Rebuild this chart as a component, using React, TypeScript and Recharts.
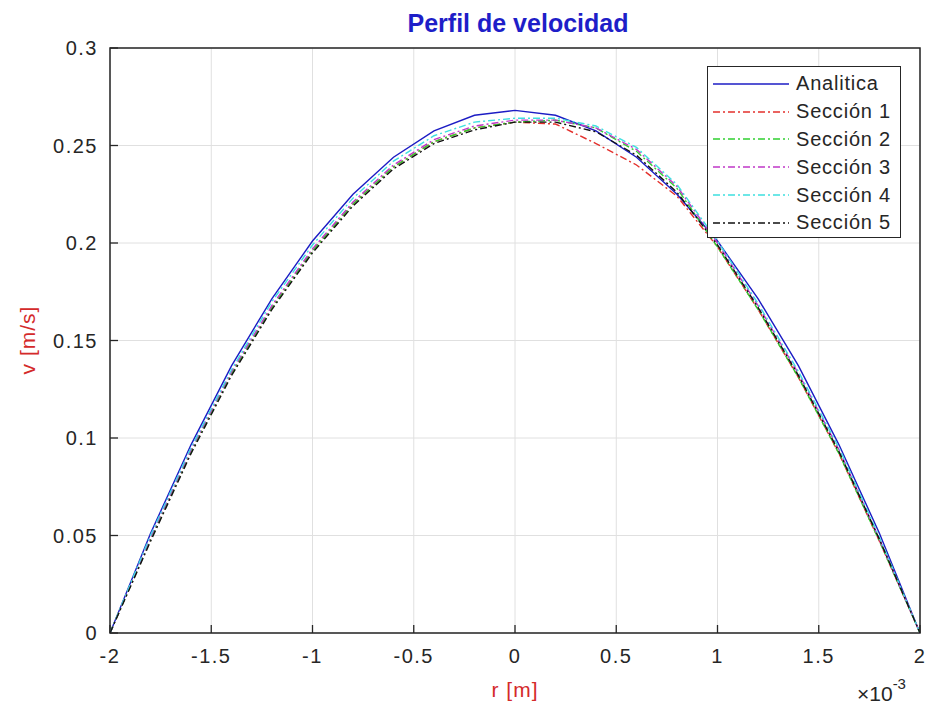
import React from 'react';
import { LineChart, Line, XAxis, YAxis, CartesianGrid, ReferenceArea } from 'recharts';

// r in units of 1e-3 m (axis multiplier shown as "x10^-3")
const radius = [-2, -1.8, -1.6, -1.4, -1.2, -1, -0.8, -0.6, -0.4, -0.2, 0, 0.2, 0.4, 0.6, 0.8, 1, 1.2, 1.4, 1.6, 1.8, 2];

const analitica = [0, 0.051, 0.0965, 0.137, 0.1715, 0.201, 0.225, 0.244, 0.2575, 0.2655, 0.268, 0.2655, 0.2575, 0.244, 0.225, 0.201, 0.1715, 0.137, 0.0965, 0.051, 0];
const seccion1 = [0, 0.048, 0.093, 0.133, 0.167, 0.196, 0.22, 0.239, 0.252, 0.259, 0.262, 0.261, 0.251, 0.24, 0.224, 0.198, 0.166, 0.131, 0.092, 0.047, 0];
const seccion2 = [0, 0.048, 0.093, 0.133, 0.167, 0.196, 0.22, 0.239, 0.252, 0.259, 0.262, 0.263, 0.259, 0.247, 0.228, 0.198, 0.166, 0.131, 0.092, 0.047, 0];
const seccion3 = [0, 0.049, 0.094, 0.134, 0.168, 0.197, 0.221, 0.24, 0.253, 0.26, 0.263, 0.263, 0.259, 0.248, 0.229, 0.2, 0.168, 0.133, 0.094, 0.048, 0];
const seccion4 = [0, 0.05, 0.095, 0.135, 0.17, 0.199, 0.223, 0.242, 0.255, 0.262, 0.264, 0.264, 0.26, 0.249, 0.23, 0.201, 0.169, 0.134, 0.095, 0.049, 0];
const seccion5 = [0, 0.047, 0.092, 0.132, 0.166, 0.195, 0.219, 0.238, 0.251, 0.258, 0.262, 0.262, 0.257, 0.245, 0.226, 0.199, 0.167, 0.132, 0.093, 0.048, 0];

const xTicks = [-2, -1.5, -1, -0.5, 0, 0.5, 1, 1.5, 2];
const yTicks = [0, 0.05, 0.1, 0.15, 0.2, 0.25, 0.3];
const yTickLabels = ['0', '0.05', '0.1', '0.15', '0.2', '0.25', '0.3'];

const series = [
  { name: 'Analitica', values: analitica, color: '#1c1cc4', dash: undefined },
  { name: 'Sección 1', values: seccion1, color: '#e3302c', dash: '7 3 2 3' },
  { name: 'Sección 2', values: seccion2, color: '#30d030', dash: '7 3 2 3' },
  { name: 'Sección 3', values: seccion3, color: '#c038c8', dash: '7 3 2 3' },
  { name: 'Sección 4', values: seccion4, color: '#3ee0e0', dash: '7 3 2 3' },
  { name: 'Sección 5', values: seccion5, color: '#111111', dash: '7 3 2 3' },
];

const toPoints = (vals: number[]) => radius.map((r, i) => ({ r, v: vals[i] }));

const axisColor = '#262626';
const font = 'Liberation Sans, Arial, sans-serif';
const TICK_LEN = 8;
const GAP_X = 15; // label gap below bottom axis
const GAP_Y = 12; // label gap left of left axis

// MATLAB-like inward ticks: draw the mark and the label in one custom tick
const BottomTick = (props: any) => {
  const { x, y, payload } = props;
  const axisY = y - GAP_X;
  return (
    <g>
      <line x1={x} x2={x} y1={axisY} y2={axisY - TICK_LEN} stroke={axisColor} strokeWidth={1.3} />
      <text x={x} y={y} dy="0.75em" textAnchor="middle" fill={axisColor} fontSize={20} fontFamily={font} letterSpacing={1.5}>
        {payload.value}
      </text>
    </g>
  );
};

const TopTick = (props: any) => {
  const { x, y } = props;
  return <line x1={x} x2={x} y1={y} y2={y + TICK_LEN} stroke={axisColor} strokeWidth={1.3} />;
};

const LeftTick = (props: any) => {
  const { x, y, payload } = props;
  const axisX = x + GAP_Y;
  return (
    <g>
      <line x1={axisX} x2={axisX + TICK_LEN} y1={y} y2={y} stroke={axisColor} strokeWidth={1.3} />
      <text x={x} y={y} dy="0.36em" textAnchor="end" fill={axisColor} fontSize={20} fontFamily={font} letterSpacing={1.5}>
        {yTickLabels[yTicks.indexOf(payload.value)] ?? payload.value}
      </text>
    </g>
  );
};

const RightTick = (props: any) => {
  const { x, y } = props;
  return <line x1={x} x2={x - TICK_LEN} y1={y} y2={y} stroke={axisColor} strokeWidth={1.3} />;
};

const Legend = () => (
  <div
    style={{
      position: 'absolute',
      left: 707,
      top: 66,
      width: 194,
      height: 172,
      boxSizing: 'border-box',
      border: '1.5px solid #262626',
      background: '#fff',
      fontFamily: font,
      fontSize: 20,
      color: axisColor,
      paddingTop: 3,
    }}
  >
    {series.map((s) => (
      <div key={s.name} style={{ display: 'flex', alignItems: 'center', height: 27.8 }}>
        <svg width={88} height={10} style={{ flex: 'none' }}>
          <line x1={5} x2={81} y1={5} y2={5} stroke={s.color} strokeWidth={1.5} strokeDasharray={s.dash} />
        </svg>
        <span style={{ letterSpacing: 0.8 }}>{s.name}</span>
      </div>
    ))}
  </div>
);

const axisZ: any = { zIndex: 700 };

export default function App() {
  return (
    <div style={{ position: 'absolute', left: 0, top: 0, width: 933, height: 707, background: '#fff', fontFamily: font }}>
      <LineChart width={933} height={707} margin={{ top: 48, right: 13, bottom: 44, left: 50 }}>
        <CartesianGrid stroke="#e0e0e0" strokeWidth={1} {...({ zIndex: -100 } as any)} />
        {series.map((s) => (
          <Line
            key={s.name}
            data={toPoints(s.values)}
            dataKey="v"
            name={s.name}
            type="linear"
            stroke={s.color}
            strokeWidth={1.4}
            strokeDasharray={s.dash}
            dot={false}
            isAnimationActive={false}
          />
        ))}
        <XAxis
          dataKey="r"
          type="number"
          domain={[-2, 2]}
          ticks={xTicks}
          allowDataOverflow
          height={30}
          tickSize={0}
          tickMargin={GAP_X}
          axisLine={false}
          tickLine={false}
          tick={BottomTick}
          {...axisZ}
        />
        <XAxis
          xAxisId="top"
          orientation="top"
          dataKey="r"
          type="number"
          domain={[-2, 2]}
          ticks={xTicks}
          height={0}
          tickSize={0}
          tickMargin={0}
          axisLine={false}
          tickLine={false}
          tick={TopTick}
          {...axisZ}
        />
        <YAxis
          type="number"
          domain={[0, 0.3]}
          ticks={yTicks}
          width={60}
          tickSize={0}
          tickMargin={GAP_Y}
          axisLine={false}
          tickLine={false}
          tick={LeftTick}
          {...axisZ}
        />
        <YAxis
          yAxisId="right"
          orientation="right"
          type="number"
          domain={[0, 0.3]}
          ticks={yTicks}
          width={0}
          tickSize={0}
          tickMargin={0}
          axisLine={false}
          tickLine={false}
          tick={RightTick}
          {...axisZ}
        />
        <ReferenceArea x1={-2} x2={2} y1={0} y2={0.3} fill="none" stroke={axisColor} strokeWidth={1.5} ifOverflow="visible" />
      </LineChart>

      <div style={{ position: 'absolute', left: 0, width: 1036, top: 9, textAlign: 'center', fontSize: 25, fontWeight: 'bold', color: '#1e1ec8' }}>
        Perfil de velocidad
      </div>
      <div
        style={{
          position: 'absolute',
          left: 28,
          top: 340,
          transform: 'translate(-50%, -50%) rotate(-90deg)',
          whiteSpace: 'nowrap',
          fontSize: 21,
          color: '#d42a2a',
          letterSpacing: 1,
        }}
      >
        v [m/s]
      </div>
      <div style={{ position: 'absolute', left: 515, top: 690, transform: 'translate(-50%, -50%)', fontSize: 21, color: '#d42a2a', letterSpacing: 1 }}>
        r [m]
      </div>
      <div style={{ position: 'absolute', left: 857, top: 682, fontSize: 21, color: axisColor, whiteSpace: 'nowrap' }}>
        ×10<sup style={{ fontSize: 15, verticalAlign: 'top', position: 'relative', top: -7 }}>-3</sup>
      </div>
      <Legend />
    </div>
  );
}
